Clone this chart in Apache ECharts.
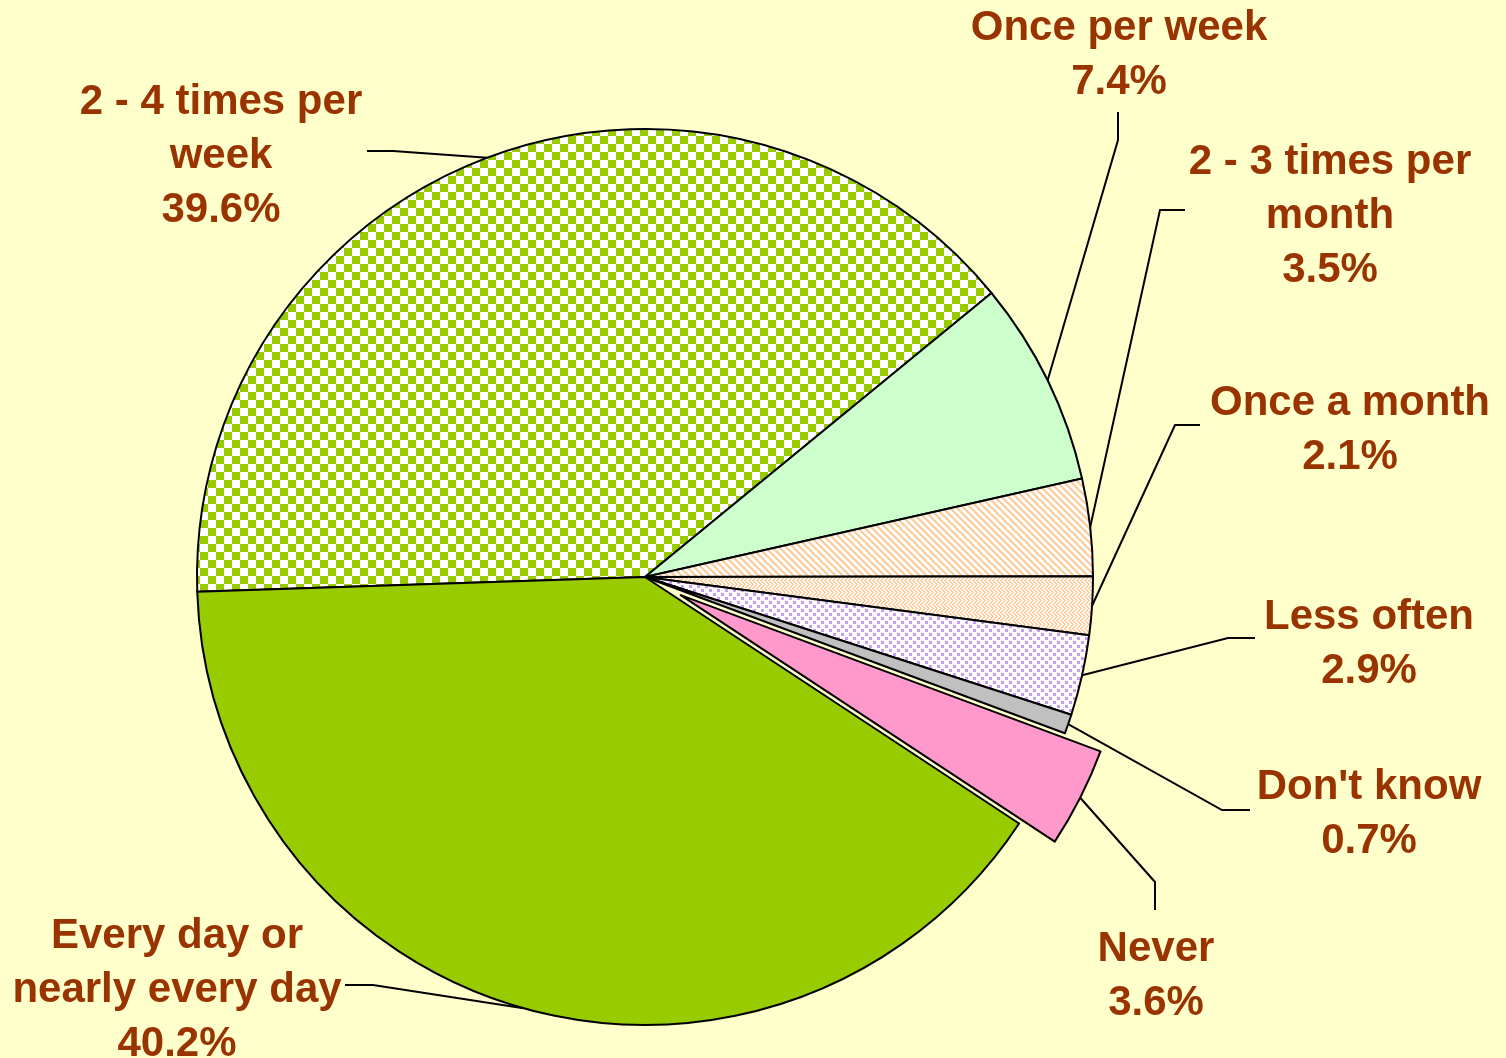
<!DOCTYPE html>
<html>
<head>
<meta charset="utf-8">
<title>How often</title>
<script src="https://cdn.jsdelivr.net/npm/echarts@6/dist/echarts.min.js"></script>
<style>
  html, body { margin: 0; padding: 0; background: #FFFFCC; }
  #chart { width: 1506px; height: 1058px; }
</style>
</head>
<body>
<div id="chart"></div>
<script>
// Frequency categories, clockwise from the left edge of the pie
const categories = [
  '2 - 4 times per\nweek',
  'Once per week',
  '2 - 3 times per\nmonth',
  'Once a month',
  'Less often',
  "Don't know",
  'Never',
  'Every day or\nnearly every day'
];
// Share of respondents, %
const shares = [39.6, 7.4, 3.5, 2.1, 2.9, 0.7, 3.6, 40.2];
// The slice pulled out from the pie
const pulledOut = 'Never';

// Pie geometry
const PIE_CENTER = [645, 577];
const PIE_RADIUS = 448;
const PULL_OFFSET = 40;

// Label anchor (centre of the text block) and leader-line bend / end, per category
const labelSpots = [
  { x: 221,  y: 156, bend: [393, 151], end: [367, 151] },
  { x: 1119, y: 55,  bend: [1118, 140], end: [1118, 112] },
  { x: 1330, y: 216, bend: [1160, 210], end: [1185, 210] },
  { x: 1350, y: 430, bend: [1175, 425], end: [1200, 425] },
  { x: 1369, y: 644, bend: [1228, 638], end: [1255, 638] },
  { x: 1369, y: 814, bend: [1222, 810], end: [1250, 810] },
  { x: 1156, y: 976, bend: [1155, 882], end: [1155, 910] },
  { x: 177,  y: 990, bend: [373, 985], end: [345, 985] }
];

// ---- fill patterns ----
function makeCanvas(w, h, bg) {
  const c = document.createElement('canvas');
  c.width = w; c.height = h;
  const g = c.getContext('2d');
  g.fillStyle = bg; g.fillRect(0, 0, w, h);
  return [c, g];
}
function checkerPattern() {
  const [c, g] = makeCanvas(16, 16, '#FFFFFF');
  g.fillStyle = '#99CC00';
  g.fillRect(0, 0, 8, 8);
  g.fillRect(8, 8, 8, 8);
  return c;
}
function stripePattern() {
  const [c, g] = makeCanvas(7, 7, '#FFFFFF');
  g.fillStyle = '#FFCC99';
  for (let y = 0; y < 7; y++) {
    for (let x = 0; x < 7; x++) {
      const k = ((x - y) % 7 + 7) % 7;
      if (k < 3) g.fillRect(x, y, 1, 1);
    }
  }
  return c;
}
function weavePattern() {
  const [c, g] = makeCanvas(8, 8, '#FFFFFF');
  g.fillStyle = '#FFCC99';
  for (let y = 0; y < 8; y++) {
    const zig = y < 4 ? y : 8 - y;
    for (let x = 0; x < 8; x++) {
      const k = ((x + zig) % 4 + 4) % 4;
      if (k < 2) g.fillRect(x, y, 1, 1);
    }
  }
  return c;
}
function dotPattern() {
  const [c, g] = makeCanvas(8, 8, '#FFFFFF');
  g.fillStyle = '#CC99FF';
  g.fillRect(1, 1, 3, 3);
  g.fillRect(5, 5, 3, 3);
  return c;
}

const fills = [
  { image: checkerPattern(), repeat: 'repeat' },
  '#CCFFCC',
  { image: stripePattern(), repeat: 'repeat' },
  { image: weavePattern(), repeat: 'repeat' },
  { image: dotPattern(), repeat: 'repeat' },
  '#C0C0C0',
  '#FF99CC',
  '#99CC00'
];

const HIDDEN = { color: 'rgba(0,0,0,0)', borderWidth: 0 };

// Main pie: every slice except the pulled-out one, plus all labels
const baseData = categories.map((name, i) => ({
  name: name,
  value: shares[i],
  itemStyle: name === pulledOut ? HIDDEN : { color: fills[i] }
}));

// Second pie with the same angles: only the pulled-out slice is visible
const pulledData = categories.map((name, i) => {
  const isPulled = name === pulledOut;
  const style = isPulled
    ? { color: fills[i], borderColor: '#000000', borderWidth: 2 }
    : HIDDEN;
  return {
    name: name,
    value: shares[i],
    selected: isPulled,
    itemStyle: style,
    select: { itemStyle: style }
  };
});

const labelFont = {
  color: '#993300',
  fontFamily: 'Liberation Sans, Arial, sans-serif',
  fontWeight: 'bold',
  fontSize: 42,
  lineHeight: 54,
  align: 'center'
};

const chart = echarts.init(document.getElementById('chart'), null, { renderer: 'canvas' });
chart.setOption({
  backgroundColor: '#FFFFCC',
  animation: false,
  series: [
    {
      type: 'pie',
      name: 'base',
      center: PIE_CENTER,
      radius: [0, PIE_RADIUS],
      startAngle: 181.9,
      clockwise: true,
      selectedMode: false,
      avoidLabelOverlap: false,
      emphasis: { disabled: true },
      itemStyle: { borderColor: '#000000', borderWidth: 2 },
      label: Object.assign({
        show: true,
        position: 'outside',
        formatter: p => p.name + '\n' + p.value.toFixed(1) + '%'
      }, labelFont),
      labelLine: {
        show: true,
        length: 20,
        length2: 20,
        lineStyle: { color: '#000000', width: 2 }
      },
      labelLayout: function (params) {
        const s = labelSpots[params.dataIndex];
        const pts = params.labelLinePoints;
        const out = { x: s.x, y: s.y, align: 'center', verticalAlign: 'middle' };
        if (pts && pts.length) {
          let start = pts[0];
          if (categories[params.dataIndex] === pulledOut) {
            // leader line starts on the rim of the pulled-out slice
            const dx = start[0] - PIE_CENTER[0];
            const dy = start[1] - PIE_CENTER[1];
            const len = Math.sqrt(dx * dx + dy * dy) || 1;
            start = [start[0] + dx / len * PULL_OFFSET, start[1] + dy / len * PULL_OFFSET];
          }
          out.labelLinePoints = [start, s.bend, s.end];
        }
        return out;
      },
      data: baseData
    },
    {
      type: 'pie',
      name: 'pulled',
      silent: true,
      center: PIE_CENTER,
      radius: [0, PIE_RADIUS],
      startAngle: 181.9,
      clockwise: true,
      selectedMode: 'single',
      selectedOffset: PULL_OFFSET,
      emphasis: { disabled: true },
      label: { show: false },
      labelLine: { show: false },
      data: pulledData
    }
  ]
});
</script>
</body>
</html>
